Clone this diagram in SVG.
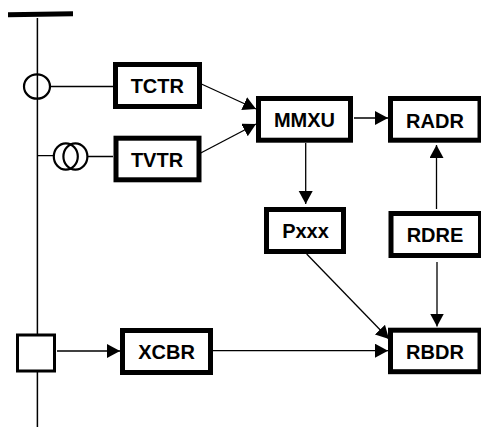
<svg xmlns="http://www.w3.org/2000/svg" width="481" height="427" viewBox="0 0 481 427">
<style>
.box{fill:#fff;stroke:#000;stroke-width:5}
.t{font-family:"Liberation Sans",Arial,sans-serif;font-weight:bold;font-size:20px;text-anchor:middle;fill:#000}
.w{fill:none;stroke:#000;stroke-width:1.3}
.s{fill:none;stroke:#000;stroke-width:1.5}
.r{fill:none;stroke:#000;stroke-width:2.2}
.c{fill:none;stroke:#000;stroke-width:1.3;marker-end:url(#a)}
</style>
<defs><marker id="a" markerUnits="userSpaceOnUse" markerWidth="14" markerHeight="15" refX="13" refY="7" orient="auto"><path d="M0 0L13 7L0 14Z" fill="#000"/></marker></defs>
<rect width="481" height="427" fill="#fff"/>
<g id="line">
<path d="M8 14.7L73 13.7" fill="none" stroke="#000" stroke-width="5"/>
<path class="s" d="M37.4 18V334M37.4 372V427"/>
</g>
<g id="ct"><ellipse class="r" cx="37" cy="86.5" rx="13" ry="12.2"/></g>
<g id="vt"><ellipse class="r" cx="65.8" cy="156.5" rx="12" ry="13.2"/><ellipse class="r" cx="75.4" cy="156.5" rx="12" ry="13.2"/></g>
<g id="breaker"><rect x="17.5" y="335" width="37" height="36" fill="#fff" stroke="#000" stroke-width="3"/></g>
<g id="connectors">
<path class="w" d="M51 86.5H113M37.4 155.7H54M88 156.5H113"/>
<path class="c" d="M197 82L256 109"/>
<path class="c" d="M195 156L256 124"/>
<path class="c" d="M354 118H388"/>
<path class="c" d="M305.7 143V204"/>
<path class="c" d="M436.5 209V145"/>
<path class="c" d="M437 262V326.5"/>
<path class="c" d="M306.7 254L389 339"/>
<path class="c" d="M213 350.7H388"/>
<path class="c" d="M57 351H120"/>
</g>
<g id="TCTR"><rect class="box" x="115.5" y="64.5" width="84" height="42"/><text class="t" x="157.3" y="93">TCTR</text></g>
<g id="TVTR"><rect class="box" x="116" y="138.2" width="83" height="41.6"/><text class="t" x="157" y="166.5">TVTR</text></g>
<g id="MMXU"><rect class="box" x="258.5" y="98.5" width="92" height="41.7"/><text class="t" x="304.5" y="127">MMXU</text></g>
<g id="RADR"><rect class="box" x="390.5" y="98.5" width="89.5" height="41.7"/><text class="t" x="435" y="127.5">RADR</text></g>
<g id="Pxxx"><rect class="box" x="266.5" y="209.5" width="77" height="42"/><text class="t" x="305.5" y="238">Pxxx</text></g>
<g id="RDRE"><rect class="box" x="391" y="213.5" width="89.5" height="42"/><text class="t" x="435" y="242">RDRE</text></g>
<g id="RBDR"><rect class="box" x="390.5" y="330.2" width="89.5" height="41.5"/><text class="t" x="435" y="358.5">RBDR</text></g>
<g id="XCBR"><rect class="box" x="122.5" y="330.5" width="88" height="42"/><text class="t" x="166.5" y="358.5">XCBR</text></g>
</svg>
